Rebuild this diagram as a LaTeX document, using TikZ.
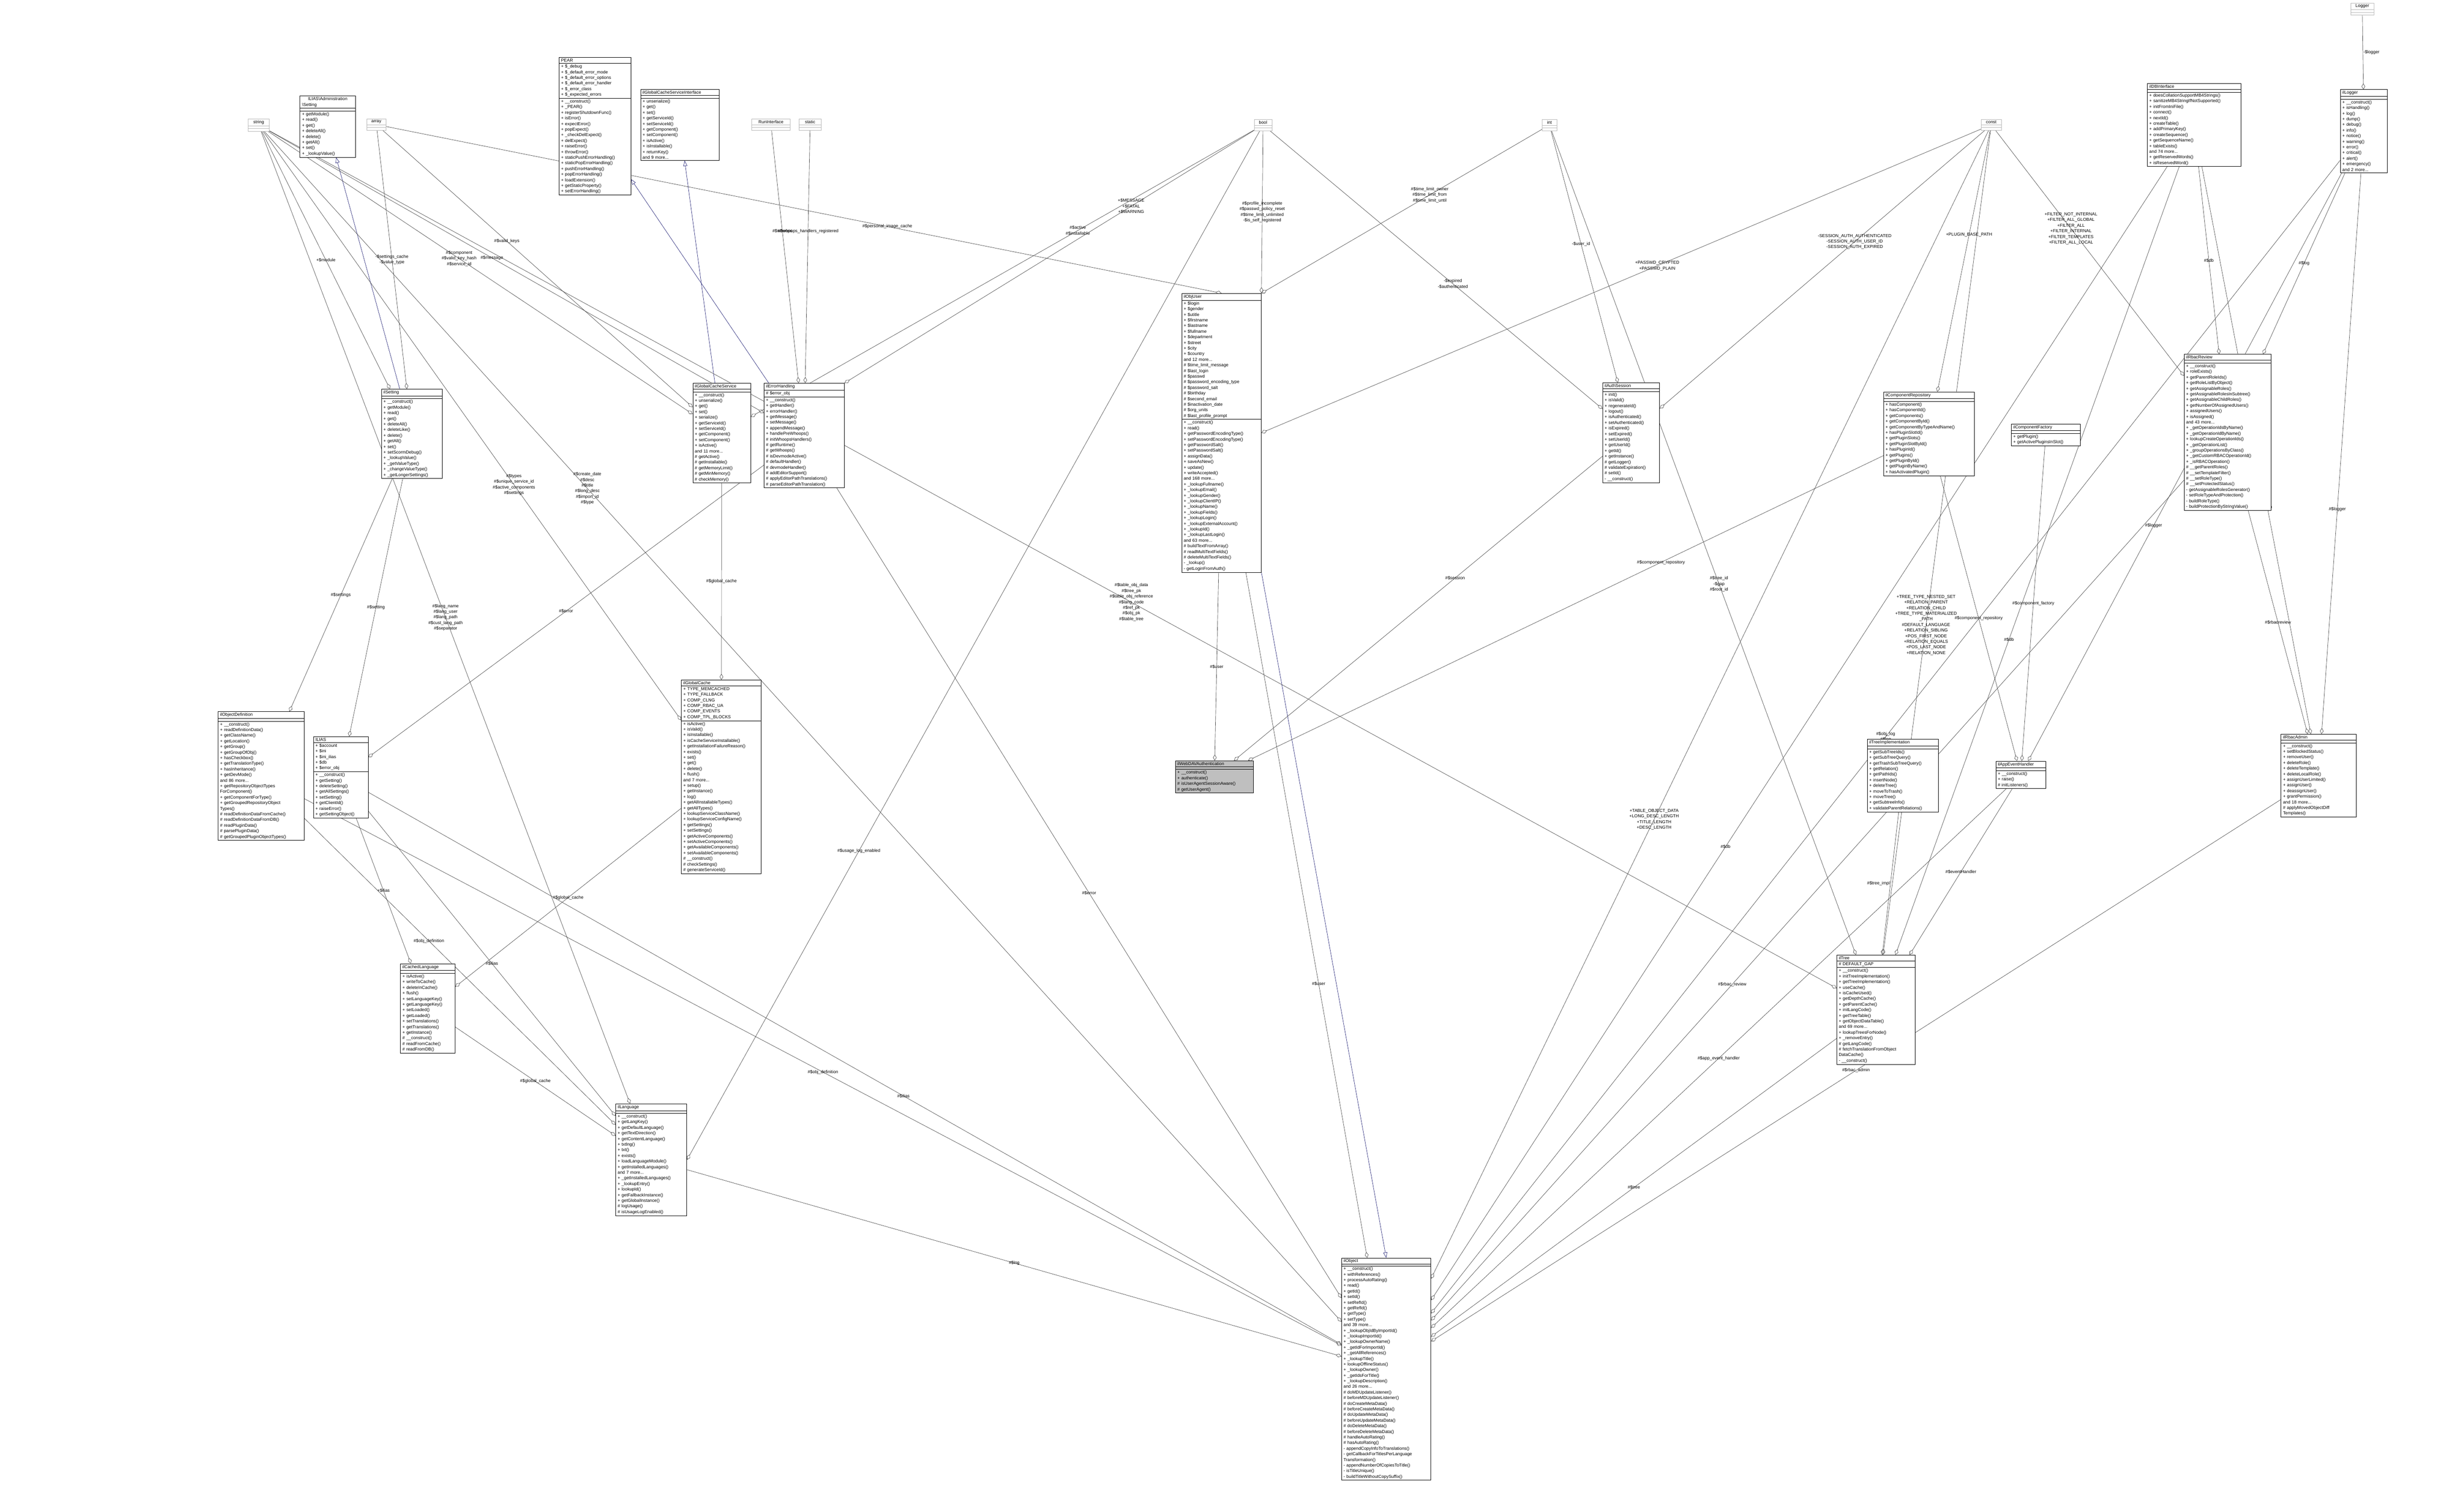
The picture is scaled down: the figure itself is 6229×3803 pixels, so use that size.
\documentclass[tikz,border=0pt]{standalone}
\usepackage{fontspec}
\setmainfont{Liberation Sans}
\usetikzlibrary{arrows.meta,shapes.multipart}
\newcommand{\clsfont}{\fontsize{11}{14.2}\selectfont}
\definecolor{inhblue}{RGB}{25,25,112}
\definecolor{edgegray}{RGB}{64,64,64}
\pgfdeclarelayer{bg}
\pgfsetlayers{bg,main}

\begin{document}
\begin{tikzpicture}[
    x=1pt, y=-1pt,
    cls/.style={rectangle split, rectangle split parts=3, draw=black, fill=white, anchor=north west,
      align=left, font=\clsfont, inner xsep=5pt, inner ysep=3pt, text width=#1, line width=0.9pt,
      rectangle split empty part height=12pt},
    typ/.style={cls=#1, draw=gray!55, align=center},
    agg/.style={draw=edgegray, line width=0.8pt, -{Diamond[open,length=15pt,width=9pt]}},
    inh/.style={draw=inhblue, line width=0.8pt, -{Triangle[open,length=14pt,width=10pt]}},
    lbl/.style={font=\clsfont, align=center, inner sep=1pt}
  ]
  \useasboundingbox (0,0) rectangle (6229,3803);

  % top row: plain types and interfaces
  \node[typ=43] (string) at (627,300) {string\nodepart{two}\nodepart{three}};
  \node[typ=38] (array) at (927,300) {array\nodepart{two}\nodepart{three}};
  \node[typ=87] (runif) at (1900,300) {RunInterface\nodepart{two}\nodepart{three}};
  \node[typ=45] (static) at (2020,300) {static\nodepart{two}\nodepart{three}};
  \node[typ=35] (bool) at (3170,301) {bool\nodepart{two}\nodepart{three}};
  \node[typ=27] (int) at (3898,301) {int\nodepart{two}\nodepart{three}};
  \node[typ=41] (const) at (5008,301) {const\nodepart{two}\nodepart{three}};
  \node[typ=49] (logger) at (5942,7) {Logger\nodepart{two}\nodepart{three}};

  \node[cls=130] (admset) at (758,242) {\centering ILIAS\textbackslash Administration\\\textbackslash Setting
    \nodepart{two}
    \nodepart{three}+ getModule()\\+ read()\\+ get()\\+ deleteAll()\\+ delete()\\+ getAll()\\+ set()\\+ \_lookupValue()};

  \node[cls=171] (pear) at (1413,145) {\centering PEAR
    \nodepart{two}+ \$\_debug\\+ \$\_default\_error\_mode\\+ \$\_default\_error\_options\\+ \$\_default\_error\_handler\\+ \$\_error\_class\\+ \$\_expected\_errors
    \nodepart{three}+ \_\_construct()\\+ \_PEAR()\\+ registerShutdownFunc()\\+ isError()\\+ expectError()\\+ popExpect()\\+ \_checkDelExpect()\\+ delExpect()\\+ raiseError()\\+ throwError()\\+ staticPushErrorHandling()\\+ staticPopErrorHandling()\\+ pushErrorHandling()\\+ popErrorHandling()\\+ loadExtension()\\+ getStaticProperty()\\+ setErrorHandling()};

  \node[cls=188] (gcsif) at (1619,226) {\centering ilGlobalCacheServiceInterface
    \nodepart{two}
    \nodepart{three}+ unserialize()\\+ get()\\+ set()\\+ getServiceId()\\+ setServiceId()\\+ getComponent()\\+ setComponent()\\+ isActive()\\+ isInstallable()\\+ returnKey()\\and 9 more...};

  \node[cls=109] (illogger) at (5916,226) {\centering ilLogger
    \nodepart{two}
    \nodepart{three}+ \_\_construct()\\+ isHandling()\\+ log()\\+ dump()\\+ debug()\\+ info()\\+ notice()\\+ warning()\\+ error()\\+ critical()\\+ alert()\\+ emergency()\\and 2 more...};

  \node[cls=226] (dbif) at (5428,211) {\centering ilDBInterface
    \nodepart{two}
    \nodepart{three}+ doesCollationSupportMB4Strings()\\+ sanitizeMB4StringIfNotSupported()\\+ initFromIniFile()\\+ connect()\\+ nextId()\\+ createTable()\\+ addPrimaryKey()\\+ createSequence()\\+ getSequenceName()\\+ tableExists()\\and 74 more...\\+ getReservedWords()\\+ isReservedWord()};

  % middle row
  \node[cls=144] (setting) at (964,983) {\centering ilSetting
    \nodepart{two}
    \nodepart{three}+ \_\_construct()\\+ getModule()\\+ read()\\+ get()\\+ deleteAll()\\+ deleteLike()\\+ delete()\\+ getAll()\\+ set()\\+ setScormDebug()\\+ \_lookupValue()\\+ \_getValueType()\\+ \_changeValueType()\\+ \_getLongerSettings()};

  \node[cls=136] (gcs) at (1751,968) {\centering ilGlobalCacheService
    \nodepart{two}
    \nodepart{three}+ \_\_construct()\\+ unserialize()\\+ get()\\+ set()\\+ serialize()\\+ getServiceId()\\+ setServiceId()\\+ getComponent()\\+ setComponent()\\+ isActive()\\and 11 more...\\\# getActive()\\\# getInstallable()\\\# getMemoryLimit()\\\# getMinMemory()\\\# checkMemory()};

  \node[cls=193] (errh) at (1931,968) {\centering ilErrorHandling
    \nodepart{two}\# \$error\_obj
    \nodepart{three}+ \_\_construct()\\+ getHandler()\\+ errorHandler()\\+ getMessage()\\+ setMessage()\\+ appendMessage()\\+ handlePreWhoops()\\\# initWhoopsHandlers()\\\# getRuntime()\\\# getWhoops()\\\# isDevmodeActive()\\\# defaultHandler()\\\# devmodeHandler()\\\# addEditorSupport()\\\# applyEditorPathTranslations()\\\# parseEditorPathTranslation()};

  \node[cls=191] (objuser) at (2987,741) {\centering ilObjUser
    \nodepart{two}+ \$login\\+ \$gender\\+ \$utitle\\+ \$firstname\\+ \$lastname\\+ \$fullname\\+ \$department\\+ \$street\\+ \$city\\+ \$country\\and 12 more...\\\# \$time\_limit\_message\\\# \$last\_login\\\# \$passwd\\\# \$password\_encoding\_type\\\# \$password\_salt\\\# \$birthday\\\# \$second\_email\\\# \$inactivation\_date\\\# \$org\_units\\\# \$last\_profile\_prompt
    \nodepart{three}+ \_\_construct()\\+ read()\\+ getPasswordEncodingType()\\+ setPasswordEncodingType()\\+ getPasswordSalt()\\+ setPasswordSalt()\\+ assignData()\\+ saveAsNew()\\+ update()\\+ writeAccepted()\\and 168 more...\\+ \_lookupFullname()\\+ \_lookupEmail()\\+ \_lookupGender()\\+ \_lookupClientIP()\\+ \_lookupName()\\+ \_lookupFields()\\+ \_lookupLogin()\\+ \_lookupExternalAccount()\\+ \_lookupId()\\+ \_lookupLastLogin()\\and 63 more...\\\# buildTextFromArray()\\\# readMultiTextFields()\\\# deleteMultiTextFields()\\- \_lookup()\\- getLoginFromAuth()};

  \node[cls=134] (authsess) at (4051,967) {\centering ilAuthSession
    \nodepart{two}
    \nodepart{three}+ init()\\+ isValid()\\+ regenerateId()\\+ logout()\\+ isAuthenticated()\\+ setAuthenticated()\\+ isExpired()\\+ setExpired()\\+ setUserId()\\+ getUserId()\\+ getId()\\+ getInstance()\\\# getLogger()\\\# validateExpiration()\\\# setId()\\- \_\_construct()};

  \node[cls=220] (comprepo) at (4761,990) {\centering ilComponentRepository
    \nodepart{two}
    \nodepart{three}+ hasComponent()\\+ hasComponentId()\\+ getComponents()\\+ getComponentById()\\+ getComponentByTypeAndName()\\+ hasPluginSlotId()\\+ getPluginSlots()\\+ getPluginSlotById()\\+ hasPluginId()\\+ getPlugins()\\+ getPluginById()\\+ getPluginByName()\\+ hasActivatedPlugin()};

  \node[cls=164] (compfact) at (5084,1071) {\centering ilComponentFactory
    \nodepart{two}
    \nodepart{three}+ getPlugin()\\+ getActivePluginsInSlot()};

  \node[cls=210] (rbacrev) at (5521,895) {\centering ilRbacReview
    \nodepart{two}
    \nodepart{three}+ \_\_construct()\\+ roleExists()\\+ getParentRoleIds()\\+ getRoleListByObject()\\+ getAssignableRoles()\\+ getAssignableRolesInSubtree()\\+ getAssignableChildRoles()\\+ getNumberOfAssignedUsers()\\+ assignedUsers()\\+ isAssigned()\\and 43 more...\\+ \_getOperationIdsByName()\\+ \_getOperationIdByName()\\+ lookupCreateOperationIds()\\+ \_getOperationList()\\+ \_groupOperationsByClass()\\+ \_getCustomRBACOperationId()\\+ \_isRBACOperation()\\\# \_\_getParentRoles()\\\# \_\_setTemplateFilter()\\\# \_\_setRoleType()\\\# \_\_setProtectedStatus()\\- getAssignableRolesGenerator()\\- setRoleTypeAndProtection()\\- buildRoleType()\\- buildProtectionByStringValue()};

  % lower rows
  \node[cls=208] (objdef) at (551,1798) {\centering ilObjectDefinition
    \nodepart{two}
    \nodepart{three}+ \_\_construct()\\+ readDefinitionData()\\+ getClassName()\\+ getLocation()\\+ getGroup()\\+ getGroupOfObj()\\+ hasCheckbox()\\+ getTranslationType()\\+ hasInheritance()\\+ getDevMode()\\and 86 more...\\+ getRepositoryObjectTypes\\ForComponent()\\+ getComponentForType()\\+ getGroupedRepositoryObject\\Types()\\\# readDefinitionDataFromCache()\\\# readDefinitionDataFromDB()\\\# readPluginData()\\\# parsePluginData()\\\# getGroupedPluginObjectTypes()};

  \node[cls=128] (ilias) at (792,1861) {\centering ILIAS
    \nodepart{two}+ \$account\\+ \$ini\\+ \$ini\_ilias\\+ \$db\\+ \$error\_obj
    \nodepart{three}+ \_\_construct()\\+ getSetting()\\+ deleteSetting()\\+ getAllSettings()\\+ setSetting()\\+ getClientId()\\+ raiseError()\\+ getSettingObject()};

  \node[cls=192] (gcache) at (1722,1718) {\centering ilGlobalCache
    \nodepart{two}+ TYPE\_MEMCACHED\\+ TYPE\_FALLBACK\\+ COMP\_CLNG\\+ COMP\_RBAC\_UA\\+ COMP\_EVENTS\\+ COMP\_TPL\_BLOCKS
    \nodepart{three}+ isActive()\\+ isValid()\\+ isInstallable()\\+ isCacheServiceInstallable()\\+ getInstallationFailureReason()\\+ exists()\\+ set()\\+ get()\\+ delete()\\+ flush()\\and 7 more...\\+ setup()\\+ getInstance()\\+ log()\\+ getAllInstallableTypes()\\+ getAllTypes()\\+ lookupServiceClassName()\\+ lookupServiceConfigName()\\+ getSettings()\\+ setSettings()\\+ getActiveComponents()\\+ setActiveComponents()\\+ getAvailableComponents()\\+ setAvailableComponents()\\\# \_\_construct()\\\# checkSettings()\\\# generateServiceId()};

  \node[cls=187, fill=gray!50] (webdav) at (2971,1922) {\centering ilWebDAVAuthentication
    \nodepart{two}
    \nodepart{three}+ \_\_construct()\\+ authenticate()\\\# isUserAgentSessionAware()\\\# getUserAgent()};

  \node[cls=170] (treeimpl) at (4720,1868) {\centering ilTreeImplementation
    \nodepart{two}
    \nodepart{three}+ getSubTreeIds()\\+ getSubTreeQuery()\\+ getTrashSubTreeQuery()\\+ getRelation()\\+ getPathIds()\\+ insertNode()\\+ deleteTree()\\+ moveToTrash()\\+ moveTree()\\+ getSubtreeInfo()\\+ validateParentRelations()};

  \node[cls=116] (appev) at (5045,1923) {\centering ilAppEventHandler
    \nodepart{two}
    \nodepart{three}+ \_\_construct()\\+ raise()\\\# initListeners()};

  \node[cls=180] (rbacadm) at (5766,1855) {\centering ilRbacAdmin
    \nodepart{two}
    \nodepart{three}+ \_\_construct()\\+ setBlockedStatus()\\+ removeUser()\\+ deleteRole()\\+ deleteTemplate()\\+ deleteLocalRole()\\+ assignUserLimited()\\+ assignUser()\\+ deassignUser()\\+ grantPermission()\\and 18 more...\\\# applyMovedObjectDiff\\Templates()};

  \node[cls=128] (cachedlng) at (1012,2435) {\centering ilCachedLanguage
    \nodepart{two}
    \nodepart{three}+ isActive()\\+ writeToCache()\\+ deleteInCache()\\+ flush()\\+ setLanguageKey()\\+ getLanguageKey()\\+ setLoaded()\\+ getLoaded()\\+ setTranslations()\\+ getTranslations()\\+ getInstance()\\\# \_\_construct()\\\# readFromCache()\\\# readFromDB()};

  \node[cls=170] (lng) at (1556,2789) {\centering ilLanguage
    \nodepart{two}
    \nodepart{three}+ \_\_construct()\\+ getLangKey()\\+ getDefaultLanguage()\\+ getTextDirection()\\+ getContentLanguage()\\+ txtlng()\\+ txt()\\+ exists()\\+ loadLanguageModule()\\+ getInstalledLanguages()\\and 7 more...\\+ \_getInstalledLanguages()\\+ \_lookupEntry()\\+ lookupId()\\+ getFallbackInstance()\\+ getGlobalInstance()\\\# logUsage()\\\# isUsageLogEnabled()};

  \node[cls=188] (tree) at (4643,2413) {\centering ilTree
    \nodepart{two}\# DEFAULT\_GAP
    \nodepart{three}+ \_\_construct()\\+ initTreeImplementation()\\+ getTreeImplementation()\\+ useCache()\\+ isCacheUsed()\\+ getDepthCache()\\+ getParentCache()\\+ initLangCode()\\+ getTreeTable()\\+ getObjectDataTable()\\and 69 more...\\+ lookupTreesForNode()\\+ \_removeEntry()\\\# getLangCode()\\\# fetchTranslationFromObject\\DataCache()\\- \_\_construct()};

  \node[cls=216, inner ysep=2pt] (object) at (3391,3179) {\centering ilObject
    \nodepart{two}
    \nodepart{three}+ \_\_construct()\\+ withReferences()\\+ processAutoRating()\\+ read()\\+ getId()\\+ setId()\\+ setRefId()\\+ getRefId()\\+ getType()\\+ setType()\\and 39 more...\\+ \_lookupObjIdByImportId()\\+ \_lookupImportId()\\+ \_lookupOwnerName()\\+ \_getIdForImportId()\\+ \_getAllReferences()\\+ \_lookupTitle()\\+ lookupOfflineStatus()\\+ \_lookupOwner()\\+ \_getIdsForTitle()\\+ \_lookupDescription()\\and 26 more...\\\# doMDUpdateListener()\\\# beforeMDUpdateListener()\\\# doCreateMetaData()\\\# beforeCreateMetaData()\\\# doUpdateMetaData()\\\# beforeUpdateMetaData()\\\# doDeleteMetaData()\\\# beforeDeleteMetaData()\\\# handleAutoRating()\\\# hasAutoRating()\\- appendCopyInfoToTranslations()\\- getCallbackForTitlesPerLanguage\\Transformation()\\- appendNumberOfCopiesToTitle()\\- isTitleUnique()\\- buildTitleWithoutCopySuffix()};

  \begin{pgfonlayer}{bg}
    % inheritance
    \draw[inh] (setting) -- (admset);
    \draw[inh] (gcs) -- (gcsif);
    \draw[inh] (errh) -- (pear);
    \draw[inh] (objuser.south east) -- (object.north);

    % members of the top types
    \draw[agg] (string) -- node[lbl,pos=.5]{+\$module} (setting);
    \draw[agg] (array) -- node[lbl,pos=.5]{-\$settings\_cache\\-\$value\_type} (setting);
    \draw[agg] (string) -- node[lbl,pos=.45]{\#\$component\\\#\$valid\_key\_hash\\\#\$service\_id} (gcs);
    \draw[agg] (array) -- node[lbl,pos=.4]{\#\$valid\_keys} (gcs);
    \draw[agg] (bool) -- node[lbl,pos=.35]{\#\$active\\\#\$installable} (gcs);
    \draw[agg] (string) -- node[lbl,pos=.45]{\#\$message} (errh);
    \draw[agg] (runif) -- node[lbl,pos=.4]{\#\$whoops} (errh);
    \draw[agg] (static) -- node[lbl,pos=.4]{\#\$whoops\_handlers\_registered} (errh);
    \draw[agg] (bool) -- node[lbl,pos=.3]{+\$MESSAGE\\+\$FATAL\\+\$WARNING} (errh.north east);
    \draw[agg] (array) -- node[lbl,pos=.6]{\#\$personal\_image\_cache} (objuser.north);
    \draw[agg] (bool) -- node[lbl,pos=.5]{\#\$profile\_incomplete\\\#\$passwd\_policy\_reset\\\#\$time\_limit\_unlimited\\-\$is\_self\_registered} (objuser.north east);
    \draw[agg] (int) -- node[lbl,pos=.4]{\#\$time\_limit\_owner\\\#\$time\_limit\_from\\\#\$time\_limit\_until} (objuser.north east);
    \draw[agg] (const) -- node[lbl,pos=.45]{+PASSWD\_CRYPTED\\+PASSWD\_PLAIN} (objuser.east);
    \draw[agg] (int) -- node[lbl,pos=.45]{-\$user\_id} (authsess);
    \draw[agg] (bool) -- node[lbl,pos=.55]{-\$expired\\-\$authenticated} (authsess);
    \draw[agg] (const) -- node[lbl,pos=.4]{-SESSION\_AUTH\_AUTHENTICATED\\-SESSION\_AUTH\_USER\_ID\\-SESSION\_AUTH\_EXPIRED} (authsess);
    \draw[agg] (const) -- node[lbl,pos=.4]{+PLUGIN\_BASE\_PATH} (comprepo);
    \draw[agg] (const) -- node[lbl,pos=.4]{+FILTER\_NOT\_INTERNAL\\+FILTER\_ALL\_GLOBAL\\+FILTER\_ALL\\+FILTER\_INTERNAL\\+FILTER\_TEMPLATES\\+FILTER\_ALL\_LOCAL} (rbacrev);
    \draw[agg] (logger) -- node[lbl,right]{-\$logger} (illogger);
    \draw[agg] (dbif) -- node[lbl,pos=.5]{\#\$db} (rbacrev);
    \draw[agg] (illogger) -- node[lbl,pos=.5]{\#\$log} (rbacrev);

    % middle connections
    \draw[agg] (setting) -- node[lbl,pos=.5]{\#\$settings} (objdef);
    \draw[agg] (setting) -- node[lbl,pos=.5]{\#\$setting} (ilias);
    \draw[agg] (errh) -- node[lbl,pos=.5]{\#\$error} (ilias);
    \draw[agg] (string) -- node[lbl,pos=.55]{\#\$table\_obj\_data\\\#\$tree\_pk\\\#\$table\_obj\_reference\\\#\$lang\_code\\\#\$ref\_pk\\\#\$obj\_pk\\\#\$table\_tree} (tree);
    \draw[agg] (gcs) -- node[lbl,pos=.5]{\#\$global\_cache} (gcache);
    \draw[agg] (string) -- node[lbl,pos=.6]{\#\$types\\\#\$unique\_service\_id\\\#\$active\_components\\\#\$settings} (gcache);
    \draw[agg] (objuser) -- node[lbl,pos=.5]{\#\$user} (webdav);
    \draw[agg] (authsess) -- node[lbl,pos=.4]{\#\$session} (webdav);
    \draw[agg] (comprepo) -- node[lbl,pos=.35]{\#\$component\_repository} (webdav);
    \draw[agg] (treeimpl) -- node[lbl,left]{\#\$tree\_impl} (tree);
    \draw[agg] (appev) -- node[lbl,pos=.5]{\#\$eventHandler} (tree);
    \draw[agg] (int) -- node[lbl,pos=.55]{\#\$tree\_id\\-\$gap\\\#\$root\_id} (tree);
    \draw[agg] (const) -- node[lbl,pos=.6]{+TREE\_TYPE\_NESTED\_SET\\+RELATION\_PARENT\\+RELATION\_CHILD\\+TREE\_TYPE\_MATERIALIZED\\\_PATH\\\#DEFAULT\_LANGUAGE\\+RELATION\_SIBLING\\+POS\_FIRST\_NODE\\+RELATION\_EQUALS\\+POS\_LAST\_NODE\\+RELATION\_NONE} (tree);
    \draw[agg] (dbif) -- node[lbl,pos=.6]{\#\$db} (tree);
    \draw[agg] (comprepo) -- node[lbl,pos=.5]{\#\$component\_repository} (appev);
    \draw[agg] (compfact) -- node[lbl,pos=.5]{\#\$component\_factory} (appev);
    \draw[agg] (illogger) -- node[lbl,pos=.6]{\#\$logger} (appev);
    \draw[agg] (rbacrev) -- node[lbl,pos=.5]{\#\$rbacreview} (rbacadm);
    \draw[agg] (dbif) -- node[lbl,pos=.6]{\#\$db} (rbacadm);
    \draw[agg] (illogger) -- node[lbl,pos=.6]{\#\$logger} (rbacadm);

    % lower connections
    \draw[agg] (gcache) -- node[lbl,pos=.5]{\#\$global\_cache} (cachedlng);
    \draw[agg] (ilias) -- node[lbl,pos=.5]{+\$ilias} (cachedlng);
    \draw[agg] (cachedlng) -- node[lbl,pos=.5]{\#\$global\_cache} (lng);
    \draw[agg] (ilias) -- node[lbl,pos=.5]{\#\$ilias} (lng);
    \draw[agg] (objdef) -- node[lbl,pos=.4]{\#\$obj\_definition} (lng);
    \draw[agg] (string) -- node[lbl,pos=.5]{\#\$lang\_name\\\#\$lang\_user\\\#\$lang\_path\\\#\$cust\_lang\_path\\\#\$separator} (lng);

    % into ilObject
    \draw[agg] (lng) -- node[lbl,pos=.5]{\#\$lng} (object);
    \draw[agg] (objdef) -- node[lbl,pos=.5]{\#\$obj\_definition} (object);
    \draw[agg] (ilias) -- node[lbl,pos=.55]{\#\$ilias} (object);
    \draw[agg] (errh) -- node[lbl,pos=.5]{\#\$error} (object);
    \draw[agg] (objuser) -- node[lbl,pos=.6]{\#\$user} (object);
    \draw[agg] (string) -- node[lbl,pos=.3]{\#\$create\_date\\\#\$desc\\\#\$title\\\#\$long\_desc\\\#\$import\_id\\\#\$type} (object);
    \draw[agg] (tree) -- node[lbl,pos=.5]{\#\$tree} (object);
    \draw[agg] (appev) -- node[lbl,pos=.5]{\#\$app\_event\_handler} (object);
    \draw[agg] (rbacrev) -- node[lbl,pos=.6]{\#\$rbac\_review} (object);
    \draw[agg] (rbacadm) -- node[lbl,pos=.5]{\#\$rbac\_admin} (object);
    \draw[agg] (dbif) -- node[lbl,pos=.6]{\#\$db} (object);
    \draw[agg] (illogger) -- node[lbl,pos=.5]{\#\$obj\_log\\\#\$log} (object);
    \draw[agg] (const) -- node[lbl,pos=.6]{+TABLE\_OBJECT\_DATA\\+LONG\_DESC\_LENGTH\\+TITLE\_LENGTH\\+DESC\_LENGTH} (object);
    \draw[agg] (bool) -- node[lbl,pos=.7]{\#\$usage\_log\_enabled} (lng.east);
  \end{pgfonlayer}
\end{tikzpicture}
\end{document}
